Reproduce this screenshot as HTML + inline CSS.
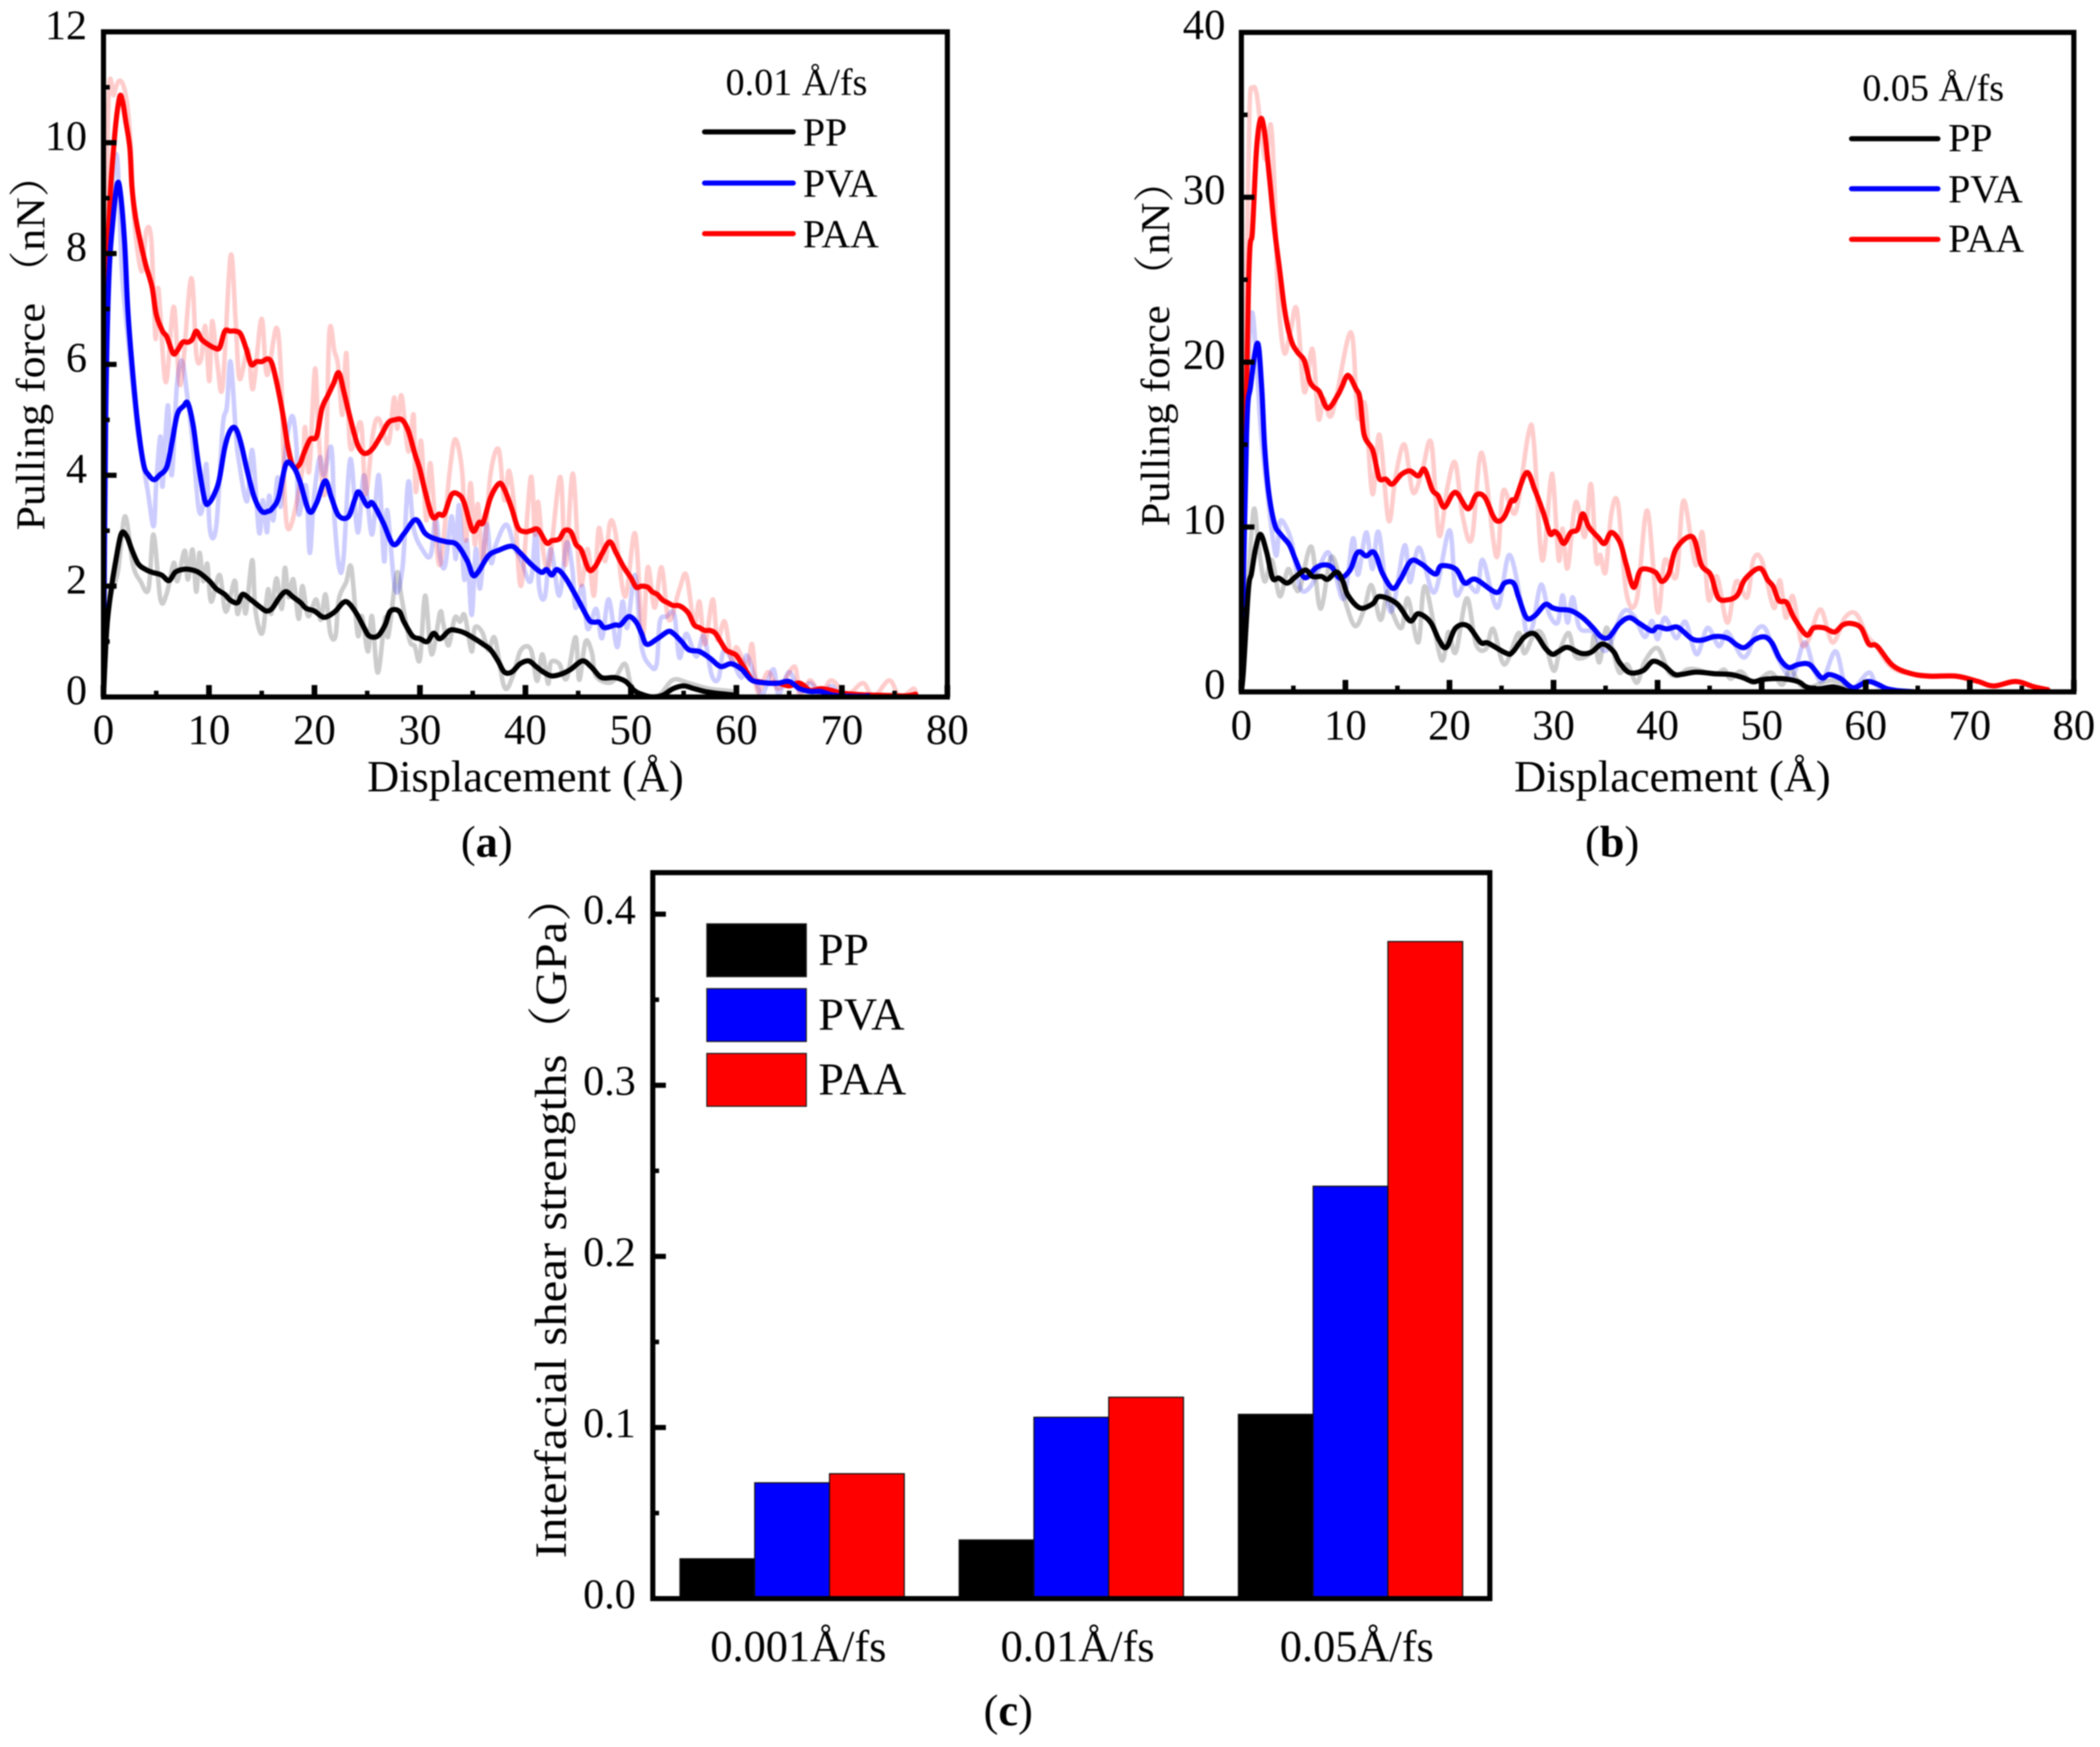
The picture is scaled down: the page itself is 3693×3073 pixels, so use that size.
<!DOCTYPE html>
<html lang="en">
<head>
<meta charset="utf-8">
<title>Pulling force and interfacial shear strength charts</title>
<style>
html,body{margin:0;padding:0;background:#fff;}
#figure{display:block;width:3693px;height:3073px;filter:blur(1px);}
text{font-family:"Liberation Serif","Noto Serif CJK SC",serif;fill:#000;}
</style>
</head>
<body>
<svg id="figure" xmlns="http://www.w3.org/2000/svg" width="3693" height="3073" viewBox="0 0 3693 3073">
<rect x="0" y="0" width="3693" height="3073" fill="#fff"/>

<g id="panel-a">
<g id="a-raw"></g><g id="a-smooth"></g>
<rect x="182" y="56" width="1484" height="1170" fill="none" stroke="#000" stroke-width="9"/>
<g id="a-ticks"></g>
<text x="924" y="1392" font-size="78" text-anchor="middle">Displacement (Å)</text>
<text transform="translate(78,933) rotate(-90) scale(1.07,1)" font-size="72">Pulling force<tspan dx="14">（nN）</tspan></text>
<text x="1276" y="167" font-size="67">0.01 Å/fs</text>
<line x1="1239" x2="1395" y1="232" y2="232" stroke="#000" stroke-width="9" stroke-linecap="round"/>
<text x="1412" y="256" font-size="70">PP</text>
<line x1="1239" x2="1395" y1="322" y2="322" stroke="#00f" stroke-width="9" stroke-linecap="round"/>
<text x="1412" y="346" font-size="70">PVA</text>
<line x1="1239" x2="1395" y1="411" y2="411" stroke="#f00" stroke-width="9" stroke-linecap="round"/>
<text x="1412" y="435" font-size="70">PAA</text>
<text x="856" y="1507" font-size="78" text-anchor="middle">(<tspan font-weight="bold">a</tspan>)</text>
</g>

<g id="panel-b">
<g id="b-raw"></g><g id="b-smooth"></g>
<rect x="2183" y="57" width="1464" height="1160" fill="none" stroke="#000" stroke-width="9"/>
<g id="b-ticks"></g>
<text x="2941" y="1392" font-size="78" text-anchor="middle">Displacement (Å)</text>
<text transform="translate(2056,926) rotate(-90) scale(1.04,1)" font-size="72">Pulling force<tspan dx="14">（nN）</tspan></text>
<text x="3275" y="177" font-size="67">0.05 Å/fs</text>
<line x1="3256" x2="3408" y1="244" y2="244" stroke="#000" stroke-width="9" stroke-linecap="round"/>
<text x="3426" y="266" font-size="70">PP</text>
<line x1="3256" x2="3408" y1="332" y2="332" stroke="#00f" stroke-width="9" stroke-linecap="round"/>
<text x="3426" y="356" font-size="70">PVA</text>
<line x1="3256" x2="3408" y1="421" y2="421" stroke="#f00" stroke-width="9" stroke-linecap="round"/>
<text x="3426" y="443" font-size="70">PAA</text>
<text x="2835" y="1507" font-size="78" text-anchor="middle">(<tspan font-weight="bold">b</tspan>)</text>
</g>

<g id="panel-c">
<g id="c-bars"></g>
<rect x="1148" y="1535" width="1472" height="1277" fill="none" stroke="#000" stroke-width="9"/>
<g id="c-ticks"></g>
<text transform="translate(995,2741) rotate(-90) scale(1.1,1)" font-size="78">Interfacial shear strengths（GPa）</text>
<rect x="1243" y="1625" width="175" height="93" fill="#000" stroke="#222" stroke-width="2"/>
<text x="1439" y="1697" font-size="80">PP</text>
<rect x="1243" y="1739" width="175" height="93" fill="#00f" stroke="#222" stroke-width="2"/>
<text x="1439" y="1811" font-size="81">PVA</text>
<rect x="1243" y="1853" width="175" height="93" fill="#f00" stroke="#222" stroke-width="2"/>
<text x="1439" y="1925" font-size="81">PAA</text>
<text x="1773" y="3035" font-size="78" text-anchor="middle">(<tspan font-weight="bold">c</tspan>)</text>
</g>
</svg>

<script>
// ---------- Panel (a): 0.01 A/fs, [displacement, force] ----------
const aPaaSmooth=[[0,0],[0.2,6],[0.5,8.5],[1,10],[1.5,10.8],[1.8,10.75],[2.1,10.4],[2.5,9.9],[2.7,9.2],[3,8.7],[3.4,8.3],[4,7.8],[4.6,7.4],[5,6.9],[5.6,6.6],[6,6.5],[6.6,6.2],[7,6.25],[7.5,6.4],[8,6.4],[8.4,6.45],[8.8,6.6],[9.3,6.45],[10,6.35],[10.5,6.3],[11,6.3],[11.5,6.6],[12,6.6],[12.5,6.6],[13,6.55],[13.5,6.3],[14,6],[14.5,6.05],[15,6.05],[15.6,6.1],[16,6],[16.5,5.6],[17,5.1],[17.5,4.5],[18,4.15],[18.6,4.2],[19,4.4],[19.6,4.65],[20.2,4.7],[20.7,5.2],[21.3,5.45],[21.8,5.65],[22.3,5.85],[22.8,5.5],[23.3,5.1],[24,4.6],[24.5,4.42],[25,4.4],[25.6,4.5],[26.4,4.75],[27,4.95],[27.6,5],[28.3,5],[28.9,4.8],[29.5,4.4],[30,4.1],[30.5,3.7],[31.2,3.25],[31.8,3.3],[32.3,3.3],[33,3.65],[33.7,3.65],[34.2,3.5],[35,3],[35.6,3.15],[36,3.15],[36.7,3.6],[37.5,3.85],[38,3.75],[38.7,3.4],[39.3,3.05],[40,2.98],[40.5,3],[41.2,3.02],[42,2.78],[42.5,2.82],[43.2,2.85],[43.7,3],[44.3,2.98],[44.8,2.75],[45.3,2.65],[46,2.3],[46.6,2.35],[47.3,2.6],[48,2.8],[48.6,2.6],[49.3,2.35],[50,2.15],[50.5,1.98],[51,2],[51.6,1.98],[52,1.9],[52.5,1.85],[53,1.75],[53.5,1.7],[54,1.65],[54.5,1.65],[55,1.6],[55.5,1.5],[56,1.3],[56.5,1.25],[57,1.2],[57.5,1.2],[58,1.15],[58.5,1],[59,0.85],[59.5,0.8],[60,0.75],[60.5,0.6],[61,0.45],[61.5,0.3],[62,0.28],[63,0.25],[64,0.25],[65,0.2],[66,0.25],[67,0.12],[68,0.15],[69,0.12],[70,0.07],[72,0.04],[74,0.03],[76,0.02],[77,0.05]];
const aPvaSmooth=[[0,0],[0.2,5],[0.5,7.5],[0.9,8.6],[1.3,9.25],[1.6,9.1],[2,8.2],[2.3,7],[2.7,6],[3.2,5],[3.8,4.2],[4.3,4],[4.8,3.92],[5.3,4],[6,4.15],[6.5,4.6],[7,5.1],[7.6,5.25],[8,5.3],[8.5,4.9],[9,4.2],[9.6,3.55],[10,3.5],[10.6,3.7],[11,3.95],[11.5,4.5],[12,4.8],[12.5,4.85],[13,4.6],[13.6,4.1],[14.3,3.6],[15,3.35],[15.6,3.35],[16,3.4],[16.6,3.6],[17.3,4.2],[18,4.15],[18.6,3.9],[19.5,3.35],[20.2,3.5],[21,3.9],[21.6,3.6],[22.3,3.27],[23.2,3.25],[23.8,3.55],[24.2,3.7],[25,3.45],[25.5,3.5],[26.5,3.15],[27.5,2.75],[28.5,2.95],[29.6,3.2],[30.5,2.95],[31.5,2.85],[32.5,2.8],[33.5,2.75],[34.5,2.45],[35,2.2],[35.5,2.25],[36.5,2.55],[37.5,2.65],[38.7,2.72],[39.5,2.6],[40.5,2.4],[41.5,2.25],[42,2.3],[42.5,2.2],[43,2.3],[43.8,2.15],[45,1.75],[46,1.4],[46.5,1.35],[47,1.35],[47.5,1.25],[48.5,1.3],[49,1.3],[49.8,1.45],[50.5,1.35],[51,1.15],[51.5,0.95],[52.5,1.05],[53.5,1.18],[54,1.15],[54.8,1],[55.5,0.85],[56.5,0.82],[57.5,0.7],[58.5,0.55],[59.5,0.6],[60.5,0.5],[61.5,0.3],[63,0.25],[64,0.25],[65,0.28],[66,0.15],[67,0.1],[68,0.1],[69,0.04],[70,0.02],[72,0.01],[72.5,0.02]];
const aPpSmooth=[[0,0],[0.3,1.2],[0.7,1.9],[1.2,2.5],[1.7,2.95],[2.2,2.9],[2.7,2.65],[3.3,2.4],[4,2.3],[4.6,2.25],[5.5,2.2],[6.2,2.1],[6.8,2.25],[7.5,2.3],[8.2,2.3],[9,2.25],[10,2.1],[10.7,1.95],[11.5,1.85],[12,1.75],[12.7,1.7],[13.2,1.85],[14,1.75],[15,1.6],[15.5,1.55],[16,1.6],[16.7,1.8],[17.3,1.9],[18,1.8],[18.7,1.7],[19.2,1.6],[20,1.55],[20.7,1.45],[21.2,1.45],[22,1.55],[22.7,1.7],[23.2,1.7],[24,1.5],[24.7,1.25],[25.2,1.1],[26,1.1],[26.7,1.3],[27.2,1.55],[28,1.55],[28.5,1.35],[29.3,1.1],[30,1.05],[30.7,1],[31.3,1.15],[31.9,1.05],[32.8,1.2],[33.5,1.2],[34.3,1.15],[35.2,1.05],[36,0.95],[36.7,0.85],[37.4,0.65],[38,0.45],[38.7,0.45],[39.5,0.6],[40.3,0.65],[41,0.55],[41.7,0.45],[42.5,0.38],[43.5,0.42],[44.3,0.5],[45.4,0.65],[46.2,0.55],[47,0.38],[47.5,0.34],[48.5,0.35],[49.5,0.28],[50.3,0.12],[51,0.05],[52,0],[53,0.03],[54,0.15],[55,0.2],[56,0.15],[57,0.1],[58,0.07],[59,0.05],[60,0.03]];
const aPaaRaw=[[0,0],[0.4,10.17],[1,10.87],[1.56,11.12],[2.1,10.87],[2.5,10.17],[2.9,8.63],[3.6,7.68],[4.06,8.41],[4.54,8.23],[4.93,6.47],[5.2,7.37],[5.9,5.68],[6.66,7.04],[7.3,5.63],[8.3,7.55],[8.8,6.18],[9.26,6.1],[9.65,6.69],[10.03,5.7],[10.3,6.78],[10.8,6],[11.3,5.61],[12.05,7.96],[12.53,6.78],[12.9,5.74],[13.7,6.27],[14.17,5.56],[14.98,6.82],[15.5,5.81],[16.4,6.66],[16.85,5.74],[17.4,3.08],[18.8,4.03],[19.1,4.87],[19.5,4.07],[20.05,5.92],[20.4,4.69],[21,3.7],[21.4,6.55],[21.9,6.23],[22.25,5.96],[22.65,5.09],[23.03,6.2],[23.4,4.5],[24.4,4.94],[24.85,3.66],[25.55,4.76],[26.1,5.02],[27,4.58],[27.55,5.4],[27.85,4.84],[28.25,5.44],[28.9,4.43],[29.4,5.09],[29.6,3.7],[30.1,4.62],[30.6,3.19],[31,4.21],[31.85,2.38],[32.8,4.03],[33.35,4.65],[34,4.07],[34.35,2.82],[34.8,3.86],[35.2,2.75],[35.5,3.48],[36,2.42],[36.65,3.96],[37.45,4.47],[38,3.55],[38.45,4.08],[39,3.33],[39.6,2.01],[40.5,3.96],[40.9,2.93],[41.2,3.52],[41.65,2.67],[42.25,2.38],[43.3,3.97],[43.8,2.38],[44.5,4.03],[45.2,2.05],[45.9,2.67],[46.5,1.83],[46.95,3.04],[47.55,2.45],[48,3.13],[48.5,3],[49.45,1.81],[50.4,2.95],[51.1,1.1],[51.6,2.34],[52.25,1.61],[52.9,2.34],[53.6,1.39],[54.6,1.94],[55.25,2.2],[56,1.32],[56.5,1.72],[57,0.95],[57.75,1.76],[58.2,1.03],[58.9,1.36],[59.6,0.59],[60,0.9],[61,0.55],[61.5,0.95],[62,0.1],[63,0.45],[64,0.15],[65.5,0.55],[66,0.05],[67,0.3],[68,0.05],[69,0.3],[70.5,0.05],[72,0.25],[73,0],[74.5,0.3],[75.5,0],[76.8,0.15],[77,0]];
const aPvaRaw=[[0,0],[0.3,5.5],[0.7,8.6],[1.27,9.77],[1.75,7.68],[2.3,6.5],[3,5.2],[3.3,4.7],[4.15,3.77],[4.75,3.08],[5,3.85],[5.4,4.7],[5.6,3.8],[6.1,5.26],[6.47,4],[6.95,5.6],[7.43,6.07],[7.9,5.5],[8.5,4.5],[9,3.42],[9.4,3.42],[9.75,4.2],[10.1,3],[10.7,3.1],[11.3,4.87],[11.7,5.24],[12.05,6.05],[12.55,4.76],[12.8,4.3],[13.6,3.53],[14.1,4.45],[14.75,2.97],[15.1,3.55],[15.5,2.97],[15.7,3.63],[16.1,3.19],[16.5,3.96],[16.8,3.44],[17.3,4.54],[17.9,5.07],[18.3,4.5],[18.5,3.3],[19.2,3.81],[19.55,2.6],[19.95,3.59],[20.5,4.32],[20.9,4],[21.6,4.5],[21.9,3.22],[22.35,2.33],[22.75,2.49],[23.4,4.29],[24.1,2.97],[24.7,4],[25.45,2.93],[26.1,4],[26.6,2.45],[26.9,3.37],[27.65,1.94],[28.35,2.34],[28.9,3.88],[29.4,3.04],[30.2,2.67],[31,2.55],[31.5,3.22],[31.95,2.49],[32.4,2.38],[33,3.26],[33.4,2.49],[33.7,3.46],[34.2,2.12],[34.45,2.82],[34.9,1.48],[35.3,2.67],[35.7,1.96],[36.3,3.11],[36.75,2.42],[37.2,2.75],[38.2,3.11],[39,2.67],[39.55,2.49],[40.5,2.09],[41,3.04],[41.3,1.98],[41.85,1.81],[42.4,2.67],[43.2,1.83],[43.9,2.78],[44.45,2.31],[44.75,1.61],[45.4,2],[45.9,1.23],[46.7,1.59],[47.25,1.06],[47.9,1.76],[48.7,0.9],[49.2,1.72],[49.65,1.25],[50.4,2.2],[51,0.92],[51.9,0.55],[52.45,0.6],[52.75,1.36],[53.4,1.45],[54.1,1.5],[54.6,0.71],[55.25,1.14],[56.2,0.73],[56.9,1.1],[57.65,0.4],[58.3,0.33],[58.8,0.84],[59.6,0.66],[60.5,0.35],[61,0.75],[62,0.2],[62.5,0.05],[63.5,0.5],[64,0.05],[65,0.45],[66,0.1],[67,0.25],[68,0.05],[69,0.2],[70,0.02],[72,0.02],[72.5,0.02]];
const aPpRaw=[[0,0],[0.5,1.6],[1.37,2.27],[2.04,3.26],[2.8,2.38],[3.5,2.09],[4.26,1.94],[4.74,2.93],[5.4,1.76],[6,1.87],[6.67,2.42],[7,2.09],[7.7,2.64],[8,2.12],[8.44,2.66],[8.8,1.9],[9.1,2.6],[9.46,2.09],[9.85,2.4],[10.2,1.72],[11,2.2],[11.6,1.54],[12.45,2.1],[12.7,1.5],[13.2,1.87],[13.5,1.52],[14.1,2.47],[14.4,1.57],[15.05,1.15],[15.6,1.94],[15.9,1.5],[16.4,2.14],[16.9,1.59],[17.2,2.33],[17.55,1.8],[18,2.12],[18.5,1.41],[18.85,2],[19.4,1.46],[20.15,1.76],[20.6,1.39],[21.05,1.85],[21.5,1.15],[22,1.1],[22.3,1.76],[23,2.07],[23.5,2.33],[24.1,1.12],[24.5,1.46],[25.07,0.82],[25.45,1.46],[26,0.44],[26.7,1.43],[27,1.1],[27.8,2.23],[28.25,1.8],[29,1.03],[29.5,0.92],[30,0.68],[30.5,1.83],[31.1,0.77],[31.9,1.52],[32.2,1.34],[32.7,0.93],[33.3,1.43],[33.8,1.36],[34.25,1.47],[34.9,0.82],[35.2,1.25],[35.9,1.17],[36.5,0.84],[37.1,1.06],[38,0.18],[38.8,0.37],[39.55,0.84],[40.5,0.86],[41.1,0.29],[41.6,0.77],[42.15,0.24],[42.4,0.62],[43.2,0.6],[43.9,0.33],[44.75,1.08],[45.1,0.31],[45.7,1],[46.3,0.8],[46.7,0.37],[48.2,0.27],[49.4,0.6],[50,0.22],[50.7,0.07],[52.6,0.03],[54,0.31],[55.5,0.25],[57.4,0.15],[59.6,0.1],[60,0.03]];
const aXTickLabels=[0,10,20,30,40,50,60,70,80];
const aYTickLabels=[0,2,4,6,8,10,12];

// ---------- Panel (b): 0.05 A/fs, [displacement, force] ----------
const bPaaSmooth=[[0,0],[0.68,24.3],[1.07,28],[1.46,32.9],[1.85,34.75],[2.24,33.9],[2.73,31],[3.2,28],[3.7,25.5],[4.2,23],[4.8,21.3],[5.4,20.6],[6.05,20.1],[6.54,18.9],[6.93,18.5],[7.5,18.2],[8.3,17.2],[9.27,18],[9.66,18.5],[10.25,19.2],[11,18.4],[11.4,17.8],[11.8,15.6],[12.6,14.7],[13,13.6],[13.3,12.9],[13.9,12.9],[14.5,12.6],[15.4,13.2],[16.2,13.4],[17,13.1],[17.6,13.5],[18.35,12.25],[18.9,11.9],[19.5,11.2],[20.3,12],[20.8,12],[21.8,11.1],[22.6,11.95],[23.4,11.8],[24.2,10.65],[24.7,10.35],[25.3,10.65],[25.95,11.6],[26.35,11.7],[27.4,13.3],[28.2,12.25],[29,10.9],[29.66,9.6],[30.1,9.73],[30.5,9.5],[31,9],[31.65,9.67],[32.3,9.85],[32.8,10.8],[33.4,10],[34.3,9.36],[34.9,9],[35.55,9.67],[36.4,9.05],[37,7.7],[37.7,6.34],[38.4,7.4],[39.75,7.27],[40.4,6.7],[41.1,7.2],[41.8,8.7],[43.35,9.4],[44.2,7.7],[45.1,7.1],[45.8,5.73],[46.7,5.58],[47.65,5.85],[48.4,6.83],[49.8,7.5],[50.6,6.77],[51.1,6.4],[51.65,5.54],[52.4,5.42],[53.1,4.5],[54.3,3.45],[55,3.88],[56,3.88],[57,3.63],[57.8,4.06],[58.6,4.15],[59.55,3.88],[60.3,2.9],[61.1,2.77],[62.6,1.6],[64.4,1.1],[66.2,0.95],[68.7,0.95],[70.8,0.63],[72.3,0.36],[74.4,0.63],[76.2,0.3],[77.5,0.13]];
const bPvaSmooth=[[0,0],[0.5,15.6],[0.9,18.6],[1.55,21.15],[1.95,18.5],[2.24,14.84],[2.63,12.1],[3.2,10.16],[3.8,9.54],[4.6,8.93],[5.17,8.07],[5.85,7.08],[6.34,6.96],[7.12,7.5],[7.9,7.7],[8.68,7.57],[9.47,6.9],[10.44,7.39],[11,8.3],[11.4,8.5],[12,8.25],[12.6,8.5],[13,8.2],[13.56,7.2],[14.54,6.28],[15.3,6.83],[16.3,7.94],[17.3,7.76],[18.64,7.14],[19.2,7.64],[20.6,7.45],[21.47,6.6],[22.5,6.83],[24.5,6.03],[25.3,6.6],[26.15,6.6],[26.65,5.73],[27.4,4.5],[28.2,4.62],[29.2,5.3],[29.9,5.1],[30.5,5],[31.65,4.93],[32.8,4.5],[33.8,3.88],[34.6,3.33],[35.35,3.33],[36.33,4.13],[37.3,4.5],[38.3,4.13],[39.45,3.7],[40,3.94],[40.9,3.82],[41.8,3.94],[42.4,3.7],[43.35,3.2],[44.3,3.14],[45.5,3.36],[46.7,3.26],[47.65,2.83],[48.4,2.7],[49.4,3.2],[50.3,3.33],[51,2.96],[51.75,2],[52.6,1.48],[53.5,1.66],[54.6,1.66],[55.75,0.86],[56.5,1.05],[57.6,0.8],[58.8,0.25],[60.1,0.62],[61,0.5],[62,0.2],[63,0.08],[64,0.03],[64.8,0]];
const bPpSmooth=[[0,0],[0.2,1.3],[0.68,6.2],[0.98,7.2],[1.37,8.7],[1.85,9.55],[2.44,8.44],[3,6.9],[3.6,6.9],[4.4,6.6],[5.17,6.96],[6.15,7.39],[6.83,7],[7.7,7],[8.3,6.83],[9.17,7.27],[9.76,6.7],[10.25,5.85],[11.4,5.09],[12.6,5.33],[13.3,5.79],[14.93,5.36],[16.2,4.31],[17,4.74],[18.15,4.25],[19,3.14],[19.7,2.7],[20.6,3.88],[21.76,4],[23,3],[23.7,2.96],[25.47,2.34],[26.05,2.4],[27.2,3.33],[28.2,3.51],[29.2,2.65],[29.9,2.28],[30.5,2.46],[31.35,2.7],[32.6,2.34],[33.6,2.4],[34.7,2.9],[35.75,2.46],[36.33,1.79],[37.3,1.17],[38.6,1.29],[39.55,1.85],[40.6,1.6],[41.6,1.07],[42.4,1.07],[43.75,1.2],[45.5,1.1],[47.07,1.05],[48.2,0.86],[49.2,0.62],[50.2,0.76],[51.95,0.8],[53.5,0.62],[54.3,0.3],[55.45,0.18],[56.9,0.3],[58.2,0.06],[58.8,0]];
const bPaaRaw=[[0,0],[0.5,25.5],[0.78,35.4],[1.07,36.6],[1.46,36.3],[1.95,33.8],[2.34,32.3],[2.83,34.4],[3.2,30.4],[3.5,24.3],[4.1,20.6],[4.7,21.8],[5.33,23.2],[6.05,18.2],[6.83,20.8],[7.4,16.6],[7.9,17.8],[8.5,16.7],[9.07,17.7],[10.54,21.8],[11.2,16.7],[11.9,17.4],[12.6,12],[13.27,15.6],[14.15,10.4],[14.83,13.1],[15.67,15],[16.5,12.1],[17.37,13.4],[18.25,15.1],[19,9.5],[19.8,12.4],[20.55,13.9],[21.27,10.65],[22.15,9.3],[23.1,14.5],[24.5,8.2],[25.17,12.2],[26.35,10.9],[27.6,15.7],[28.1,15.2],[28.9,8],[29.7,12.7],[30,12.6],[30.5,8],[30.87,9.9],[31.35,7.5],[32.14,11.5],[33,9.4],[33.6,12.6],[34.1,8],[34.5,8.3],[35,7.27],[35.55,10.8],[36.2,11.4],[37,6],[38,5.6],[39,11],[40,4.86],[40.7,8],[41.8,7],[42.5,11.6],[43.65,7.7],[44.3,9.67],[44.9,5.6],[45.7,7],[46.7,4.2],[47.55,6.7],[48.6,5.73],[49.2,8],[50,8],[51.17,5.1],[51.75,6.77],[52.33,4.5],[53,5.8],[53.8,3],[54.5,3.14],[55.65,5],[56.8,3],[58,4.5],[59.07,4.74],[60.14,3.4],[61,2.8],[62,1.8],[63,1.3],[64.4,1.1],[66.2,1],[68.7,1],[70.8,0.65],[72.3,0.36],[74.4,0.65],[76.2,0.3],[77.5,0.1]];
const bPvaRaw=[[0,0],[0.5,16],[0.98,22.9],[1.46,20],[1.85,16],[2.44,12.4],[3.3,8.3],[3.7,10.3],[4.3,10],[4.9,8.9],[5.66,6.3],[6.73,6.47],[8.2,8.44],[8.9,7.45],[9.86,5.67],[10.73,9.3],[11.2,7.1],[12,9.67],[12.6,7.45],[13.2,9.67],[14.34,4.86],[15.67,8.87],[16.2,6.65],[17.1,8.74],[18.54,6.03],[20,9.8],[20.6,5.97],[21.56,6.7],[22.66,6.1],[23.2,8],[24.6,5.1],[25.76,8.3],[27,5],[27.4,3.63],[28,4],[28.8,6.5],[29.57,4.74],[30.4,4.2],[30.87,5.85],[31.35,4.2],[31.84,5.73],[32.5,3.88],[33.8,3.63],[35.06,2.5],[36.62,4.8],[37.7,4.62],[38.77,3.33],[39.45,4.3],[40,3.2],[40.7,4.5],[41.8,3.26],[42.67,4.25],[43.75,2.28],[44.8,3.88],[45.9,2.77],[46.7,3.63],[48,2.2],[48.7,2.34],[49.4,3.63],[50.3,3.88],[51.36,2.28],[52.9,0.92],[54.1,3],[55.07,1.29],[55.85,0.68],[57.1,2.46],[58,0.43],[58.8,0.18],[60.3,1.17],[61,0.4],[62,0.15],[63,0.05],[64.8,0]];
const bPpRaw=[[0,0],[0.5,5],[1.17,11],[1.66,8.8],[2.24,6.7],[2.93,8],[3.7,5.8],[4.5,7.45],[5.17,6.34],[5.66,6.34],[6.73,8.8],[7.6,5.05],[8.68,8.2],[9.86,5.73],[10.9,4],[11.8,5],[12.5,6.47],[13.37,4.37],[14.05,6.1],[14.5,4.86],[15.4,3.88],[16,5.67],[17,3],[17.66,6.4],[19.2,1.97],[19.9,3.63],[20.6,2.4],[21.66,5.67],[22.54,2.9],[23.5,2.6],[24.2,3.82],[25.27,1.66],[26.64,3.57],[27.2,2.34],[28.2,3.57],[29,3.39],[30,1.29],[30.6,2.52],[31.45,3.57],[32,2.28],[32.6,2.03],[33.6,2.4],[33.9,3.39],[34.4,1.79],[35.06,3.88],[35.65,2.65],[36.33,1.17],[37.1,1.66],[38,0.55],[38.77,1.85],[40,2.65],[41.1,1.17],[42,0.98],[42.8,1.35],[43.85,1.35],[45.5,1.05],[46.4,1.35],[47,0.8],[48,1.23],[49.2,0.55],[50.87,1.17],[51.95,0.43],[52.8,1.29],[54.1,0.25],[56.8,0.68],[58.8,0]];
const bXTickLabels=[0,10,20,30,40,50,60,70,80];
const bYTickLabels=[0,10,20,30,40];

// ---------- Panel (c): shear strength bars ----------
const cCategories=['0.001Å/fs','0.01Å/fs','0.05Å/fs'];
const cPp=[0.0233,0.0343,0.1077];
const cPva=[0.0677,0.106,0.241];
const cPaa=[0.073,0.1177,0.384];
const cYTickLabels=['0.0','0.1','0.2','0.3','0.4'];

// ---------- Axis functions ----------
const xA=v=>182+18.55*v;
const yA=v=>1226-97.5*v;
const xB=v=>2183+18.3*v;
const yB=v=>1217-29*v;
const xC=i=>1393+491*i;
const yC=v=>2812-3010*v;

const NS='http://www.w3.org/2000/svg';
function mk(tag,parent,attrs){
  const el=document.createElementNS(NS,tag);
  for(const k in attrs){el.setAttribute(k,attrs[k]);}
  parent.appendChild(el);
  return el;
}
// Smooth curve through the data points (Catmull-Rom to cubic Bezier)
function pathOf(data,fx,fy){
  const p=data.map(d=>[fx(d[0]),fy(d[1])]);
  let s='M'+p[0][0].toFixed(1)+' '+p[0][1].toFixed(1);
  for(let i=0;i<p.length-1;i++){
    const a=p[Math.max(i-1,0)],b=p[i],c=p[i+1],d=p[Math.min(i+2,p.length-1)];
    const c1x=b[0]+(c[0]-a[0])/6,c1y=b[1]+(c[1]-a[1])/6;
    const c2x=c[0]-(d[0]-b[0])/6,c2y=c[1]-(d[1]-b[1])/6;
    s+='C'+c1x.toFixed(1)+' '+c1y.toFixed(1)+' '+c2x.toFixed(1)+' '+c2y.toFixed(1)+' '+c[0].toFixed(1)+' '+c[1].toFixed(1);
  }
  return s;
}
function drawRaw(parentId,data,fx,fy,color,name){
  const el=mk('path',document.getElementById(parentId),{d:pathOf(data,fx,fy),fill:'none',stroke:color,'stroke-opacity':0.2,'stroke-width':8,'stroke-linejoin':'round'});
  
  
}
function drawSmooth(parentId,data,fx,fy,color,name){
  const el=mk('path',document.getElementById(parentId),{d:pathOf(data,fx,fy),fill:'none',stroke:color,'stroke-width':9,'stroke-linejoin':'round','stroke-linecap':'round'});
  
  
}
function tickX(parentId,x,y0,len,w){
  const el=mk('line',document.getElementById(parentId),{x1:x,x2:x,y1:y0,y2:y0-len,stroke:'#000','stroke-width':w});
  
  
}
function tickY(parentId,y,x0,len,w){
  const el=mk('line',document.getElementById(parentId),{x1:x0,x2:x0+len,y1:y,y2:y,stroke:'#000','stroke-width':w});
  
  
}
function label(parentId,x,y,str,size,anchor,name){
  const el=mk('text',document.getElementById(parentId),{x:x,y:y,'font-size':size,'text-anchor':anchor});
  el.textContent=str;
  
  
}

// Panel a
drawRaw('a-raw',aPpRaw,xA,yA,'#000','panel-a-pp-raw-line');
drawRaw('a-raw',aPvaRaw,xA,yA,'#00f','panel-a-pva-raw-line');
drawRaw('a-raw',aPaaRaw,xA,yA,'#f00','panel-a-paa-raw-line');
drawSmooth('a-smooth',aPaaSmooth,xA,yA,'#f00','panel-a-paa-line');
drawSmooth('a-smooth',aPvaSmooth,xA,yA,'#00f','panel-a-pva-line');
drawSmooth('a-smooth',aPpSmooth,xA,yA,'#000','panel-a-pp-line');
aXTickLabels.forEach((v,i)=>{
  tickX('a-ticks',xA(v),1226,21,10);
  if(i<aXTickLabels.length-1){tickX('a-ticks',xA(v+5),1226,11,8);}
  label('a-ticks',xA(v),1309,String(v),75,'middle','panel-a-x-tick-label');
});
aYTickLabels.forEach((v,i)=>{
  tickY('a-ticks',yA(v),182,23,9);
  if(i<aYTickLabels.length-1){tickY('a-ticks',yA(v+1),182,11,8);}
  label('a-ticks',153,yA(v)+13,String(v),74,'end','panel-a-y-tick-label');
});

// Panel b
drawRaw('b-raw',bPpRaw,xB,yB,'#000','panel-b-pp-raw-line');
drawRaw('b-raw',bPvaRaw,xB,yB,'#00f','panel-b-pva-raw-line');
drawRaw('b-raw',bPaaRaw,xB,yB,'#f00','panel-b-paa-raw-line');
drawSmooth('b-smooth',bPaaSmooth,xB,yB,'#f00','panel-b-paa-line');
drawSmooth('b-smooth',bPvaSmooth,xB,yB,'#00f','panel-b-pva-line');
drawSmooth('b-smooth',bPpSmooth,xB,yB,'#000','panel-b-pp-line');
bXTickLabels.forEach((v,i)=>{
  tickX('b-ticks',xB(v),1217,21,10);
  if(i<bXTickLabels.length-1){tickX('b-ticks',xB(v+5),1217,11,8);}
  label('b-ticks',xB(v),1301,String(v),75,'middle','panel-b-x-tick-label');
});
bYTickLabels.forEach((v,i)=>{
  tickY('b-ticks',yB(v),2183,23,9);
  if(i<bYTickLabels.length-1){tickY('b-ticks',yB(v+5),2183,11,8);}
  label('b-ticks',2155,yB(v)+12,String(v),75,'end','panel-b-y-tick-label');
});

// Panel c
const barW=131.5;
const cBars=document.getElementById('c-bars');
cCategories.forEach((cat,i)=>{
  [[cPp,'#000','pp'],[cPva,'#00f','pva'],[cPaa,'#f00','paa']].forEach((s,j)=>{
    const v=s[0][i];
    const el=mk('rect',cBars,{x:xC(i)+(j-1.5)*barW,y:yC(v),width:barW,height:yC(0)-yC(v),fill:s[1],stroke:'#111','stroke-width':2});
    
    
  });
  label('c-ticks',xC(i)+11,2922,cat,78,'middle','panel-c-category-label');
});
cYTickLabels.forEach((t,i)=>{
  const v=parseFloat(t);
  tickY('c-ticks',yC(v),1148,23,9);
  if(i<cYTickLabels.length-1){tickY('c-ticks',yC(v+0.05),1148,11,8);}
  label('c-ticks',1118,yC(v)+17,t,74,'end','panel-c-y-tick-label');
});
</script>
</body>
</html>
